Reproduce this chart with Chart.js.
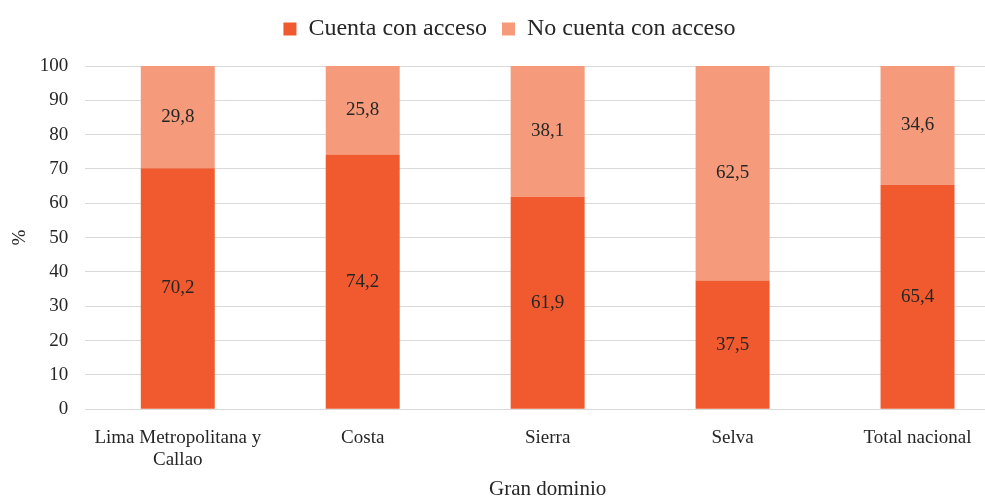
<!DOCTYPE html>
<html>
<head>
<meta charset="utf-8">
<script src="https://cdn.jsdelivr.net/npm/chart.js@4"></script>
<style>
  html, body { margin: 0; padding: 0; background: #fff; overflow: hidden; }
  #wrap { position: relative; width: 1010px; height: 498px; }
</style>
</head>
<body>
<div id="wrap"><canvas id="accessChart"></canvas></div>
<script>
const categories = [['Lima Metropolitana y', 'Callao'], 'Costa', 'Sierra', 'Selva', 'Total nacional'];
const conAcceso = [70.2, 74.2, 61.9, 37.5, 65.4];
const sinAcceso = [29.8, 25.8, 38.1, 62.5, 34.6];
const seriesNames = ['Cuenta con acceso', 'No cuenta con acceso'];

const serif = 'Liberation Serif';
const textColor = '#262626';

// writes each segment's value (comma decimal) in the middle of the bar
const barValues = {
  id: 'barValues',
  afterDatasetsDraw(chart) {
    const ctx = chart.ctx;
    ctx.save();
    ctx.font = '19px "Liberation Serif"';
    ctx.fillStyle = textColor;
    ctx.textAlign = 'center';
    ctx.textBaseline = 'middle';
    chart.data.datasets.forEach((ds, i) => {
      chart.getDatasetMeta(i).data.forEach((bar, j) => {
        const mid = (bar.y + bar.base) / 2;
        ctx.fillText(ds.data[j].toFixed(1).replace('.', ','), bar.x, mid);
      });
    });
    ctx.restore();
  }
};

// extra room between the legend and the plot
const legendGap = {
  id: 'legendGap',
  beforeInit(chart) {
    const fit = chart.legend.fit;
    chart.legend.fit = function () {
      fit.call(this);
      this.height += 15;
    };
  }
};

new Chart(document.getElementById('accessChart'), {
  type: 'bar',
  data: {
    labels: categories,
    datasets: [
      { label: seriesNames[0], data: conAcceso, backgroundColor: '#F15A2F' },
      { label: seriesNames[1], data: sinAcceso, backgroundColor: '#F59A7B' }
    ]
  },
  options: {
    responsive: true,
    maintainAspectRatio: false,
    animation: false,
    layout: { padding: { left: 9, top: 2, right: 0, bottom: 0 } },
    datasets: { bar: { barPercentage: 0.4, categoryPercentage: 1 } },
    plugins: {
      legend: {
        position: 'top',
        labels: {
          font: { family: serif, size: 24 },
          color: textColor,
          boxWidth: 13,
          boxHeight: 13,
          padding: 15
        }
      },
      tooltip: { enabled: false }
    },
    scales: {
      x: {
        stacked: true,
        grid: { display: false, drawTicks: false },
        border: { color: '#d9d9d9' },
        ticks: { font: { family: serif, size: 19, lineHeight: 1.2 }, color: textColor, padding: 17, maxRotation: 0 },
        title: { display: true, text: 'Gran dominio', font: { family: serif, size: 21 }, color: textColor, padding: { top: -12, bottom: -4 } }
      },
      y: {
        stacked: true,
        min: 0,
        max: 100,
        grid: { color: '#d9d9d9', drawTicks: false },
        border: { display: false },
        ticks: { stepSize: 10, font: { family: serif, size: 19 }, color: textColor, padding: 17 },
        title: { display: true, text: '%', font: { family: serif, size: 19 }, color: textColor, padding: { top: 0, bottom: -9 } }
      }
    }
  },
  plugins: [barValues, legendGap]
});
</script>
</body>
</html>
